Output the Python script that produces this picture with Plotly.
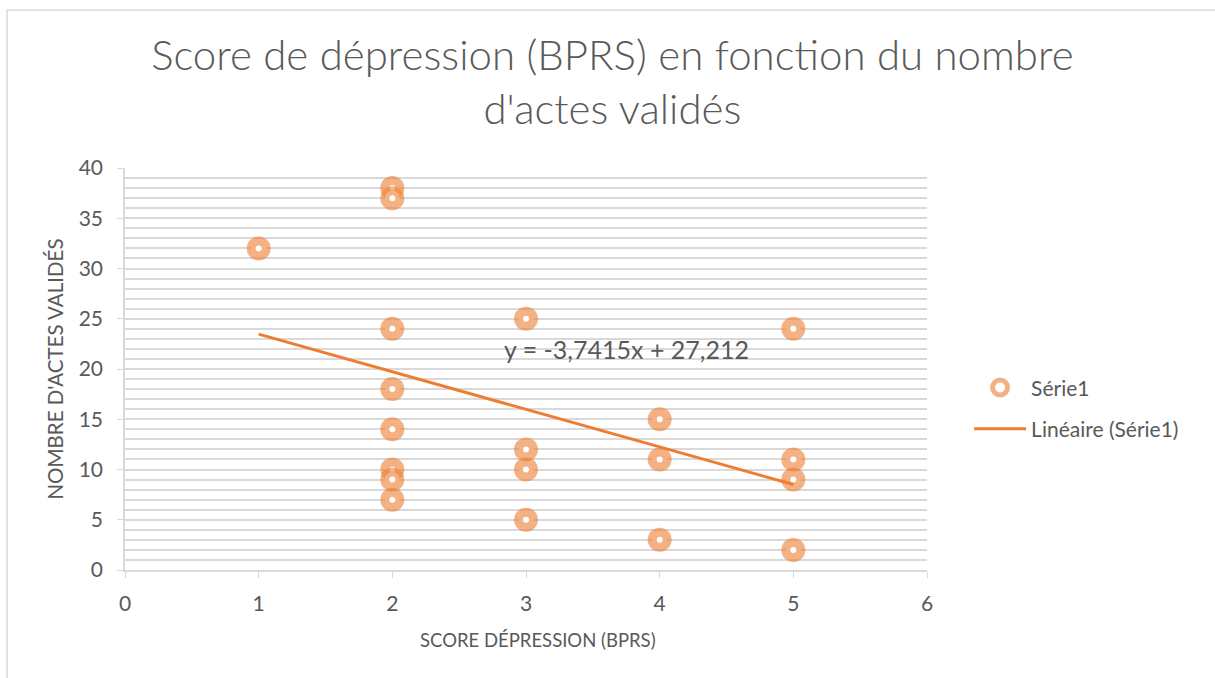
import numpy as np
import plotly.graph_objects as go

# score de dépression (BPRS) et nombre d'actes validés
score_bprs = [1, 2, 2, 2, 2, 2, 2, 2, 2, 3, 3, 3, 3, 4, 4, 4, 5, 5, 5, 5]
nb_actes = [32, 38, 37, 24, 18, 14, 10, 9, 7, 25, 12, 10, 5, 15, 11, 3, 24, 11, 9, 2]

x_ticks = [0, 1, 2, 3, 4, 5, 6]
y_ticks = [0, 5, 10, 15, 20, 25, 30, 35, 40]

FONT = "Lato"
GREY = "#595959"
ORANGE = "#ED7D31"

slope, intercept = np.polyfit(score_bprs, nb_actes, 1)
x_fit = np.array([min(score_bprs), max(score_bprs)])
y_fit = slope * x_fit + intercept
eq = f"y = {slope:.4f}x + {intercept:.3f}".replace(".", ",")

fig = go.Figure()
fig.add_trace(go.Scatter(
    x=score_bprs, y=nb_actes, mode="markers", name="Série1", legendgroup="a",
    marker=dict(size=15, color="white",
                line=dict(width=9, color="rgba(237,125,49,0.6)")),
))
fig.add_trace(go.Scatter(
    x=x_fit, y=y_fit, mode="lines", name="Linéaire (Série1)", legendgroup="b",
    line=dict(color=ORANGE, width=3),
))

fig.add_annotation(x=3.755, y=22, xref="x", yref="y", text=eq, showarrow=False,
                   xanchor="center", yanchor="middle",
                   font=dict(family=FONT, size=25, color=GREY))

# titre de l'axe x (légèrement décalé comme dans Excel)
fig.add_annotation(x=0.515, y=-0.174, xref="paper", yref="paper",
                   text="SCORE DÉPRESSION (BPRS)", showarrow=False,
                   xanchor="center", yanchor="middle",
                   font=dict(family=FONT, size=18.5, color=GREY))

# cadre du graphique
fig.add_shape(type="rect", xref="paper", yref="paper",
              x0=-0.147, x1=1.5, y0=-0.5, y1=1.393,
              line=dict(color="#d9d9d9", width=1.5), layer="below")

fig.update_layout(
    width=1215, height=678,
    margin=dict(l=125, r=288, t=168, b=108),
    paper_bgcolor="white", plot_bgcolor="white",
    font=dict(family=FONT, color=GREY),
    title=dict(text="Score de dépression (BPRS) en fonction du nombre<br>d'actes validés",
               x=0.504, xanchor="center", y=0.897, yanchor="middle",
               font=dict(family=FONT, size=42, color=GREY, weight=300)),
    showlegend=True,
    legend=dict(x=1.0525, y=0.402, xanchor="left", yanchor="middle",
                font=dict(family=FONT, size=21, color=GREY),
                itemwidth=52, tracegroupgap=11),
    xaxis=dict(range=[0, 6], tickvals=x_ticks, showgrid=False, zeroline=False,
               showline=True, linecolor="#d9d9d9", linewidth=1.5,
               ticks="outside", ticklen=6, tickcolor="#d9d9d9", ticklabelstandoff=8,
               tickfont=dict(family=FONT, size=21, color=GREY)),
    yaxis=dict(range=[0, 40], tickvals=y_ticks, showgrid=True,
               gridcolor="#d9d9d9", gridwidth=1.5, zeroline=False,
               showline=True, linecolor="#d9d9d9", linewidth=1.5,
               ticks="outside", ticklen=6, tickcolor="#d9d9d9", ticklabelstandoff=10,
               tickfont=dict(family=FONT, size=21, color=GREY),
               minor=dict(dtick=1, showgrid=True, gridcolor="#d9d9d9", gridwidth=1.5),
               title=dict(text="NOMBRE D'ACTES VALIDÉS", standoff=9,
                          font=dict(family=FONT, size=20.5, color=GREY))),
)

fig.write_html("out.html", config={"displayModeBar": False},
               post_script="document.body.style.margin='0';")
